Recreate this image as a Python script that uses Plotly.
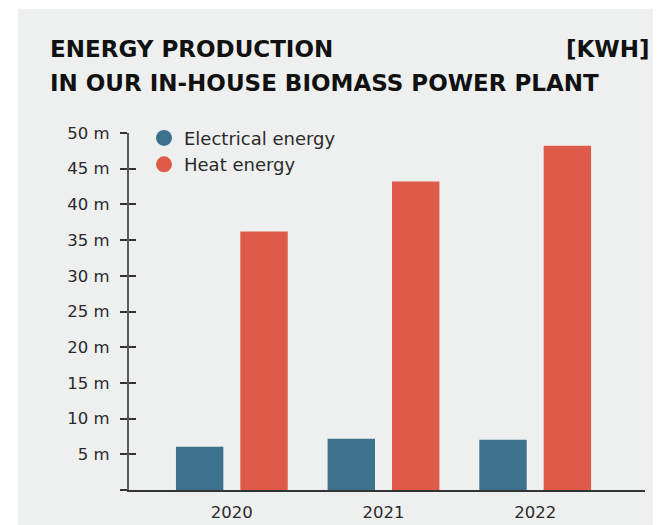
import plotly.graph_objects as go

years = ["2020", "2021", "2022"]
electrical = [6.07, 7.18, 7.04]
heat = [36.2, 43.2, 48.2]
tick_vals = [0, 5, 10, 15, 20, 25, 30, 35, 40, 45, 50]
tick_text = ["", "5 m", "10 m", "15 m", "20 m", "25 m", "30 m", "35 m", "40 m", "45 m", "50 m"]
series_names = ["Electrical energy", "Heat energy"]
title_line1 = "ENERGY PRODUCTION"
title_unit = "[KWH]"
title_line2 = "IN OUR IN-HOUSE BIOMASS POWER PLANT"

C_ELEC = "#3d728e"
C_HEAT = "#dd5b48"
PANEL = "#eef0ef"
TXT = "#2a2a2a"
FONT = "DejaVu Sans"

OFF = 8  # page body margin
W, H = 661 - OFF, 525 - OFF
# plot area in reference-window pixels
PX0, PX1, PY0, PY1 = 129, 645, 133.3, 490.4
L = PX0 - OFF
R = W - (PX1 - OFF)
T = PY0 - OFF
B = H - (PY1 - OFF)
pw, ph = W - L - R, H - T - B


def px(x):
    return (x - PX0) / pw


def py(y):
    return (PY1 - y) / ph


fig = go.Figure()
fig.add_trace(go.Bar(x=years, y=electrical, name=series_names[0], marker=dict(color=C_ELEC, line=dict(width=0)), showlegend=False))
fig.add_trace(go.Bar(x=years, y=heat, name=series_names[1], marker=dict(color=C_HEAT, line=dict(width=0)), showlegend=False))
# legend entries with circular markers
fig.add_trace(go.Scatter(x=[None], y=[None], mode="markers", name=series_names[0], marker=dict(color=C_ELEC, size=16, symbol="circle")))
fig.add_trace(go.Scatter(x=[None], y=[None], mode="markers", name=series_names[1], marker=dict(color=C_HEAT, size=16, symbol="circle")))
# empty trace to realise the overlay axis carrying inside tick marks
fig.add_trace(go.Scatter(x=[None], y=[None], yaxis="y2", showlegend=False, hoverinfo="skip"))

fig.update_layout(
    width=W, height=H,
    margin=dict(l=L, r=R, t=T, b=B, autoexpand=False),
    paper_bgcolor="white",
    plot_bgcolor="rgba(0,0,0,0)",
    font=dict(family=FONT, color=TXT, size=16.5),
    barmode="group",
    bargap=0.151,
    bargroupgap=0.264,
    showlegend=True,
    legend=dict(x=px(144), y=py(120), xanchor="left", yanchor="top", bgcolor="rgba(0,0,0,0)",
                font=dict(family=FONT, size=18, color=TXT), itemwidth=30, tracegroupgap=0),
    xaxis=dict(type="category", range=[-0.678, 2.724], showline=True, linecolor="#333333", linewidth=2,
               ticks="", showgrid=False, zeroline=False, tickfont=dict(family=FONT, size=16.5, color=TXT),
               ticklabelstandoff=6, fixedrange=True),
    yaxis=dict(range=[0, 50], tickvals=tick_vals, ticktext=tick_text, ticks="outside", ticklen=7,
               tickwidth=1.5, tickcolor="#333333", showline=True, linecolor="#5a5a5a", linewidth=2,
               showgrid=False, zeroline=False, tickfont=dict(family=FONT, size=16.5, color=TXT),
               ticklabelstandoff=7),
    yaxis2=dict(range=[0, 50], overlaying="y", side="left", anchor="x", tickvals=tick_vals, ticks="inside",
                ticklen=7, tickwidth=1.5, tickcolor="#333333", showticklabels=False, showline=False,
                showgrid=False, zeroline=False),
    shapes=[dict(type="rect", xref="paper", yref="paper", x0=px(18), x1=px(661 + 5), y0=py(525 + 5), y1=py(9),
                 fillcolor=PANEL, line=dict(width=0), layer="below")],
    annotations=[
        dict(text="<b>" + title_line1 + "</b>", xref="paper", yref="paper", x=px(48), y=py(49),
             xanchor="left", yanchor="middle", showarrow=False, font=dict(family=FONT, size=23, color="#111111")),
        dict(text="<b>" + title_unit + "</b>", xref="paper", yref="paper", x=px(651), y=py(49),
             xanchor="right", yanchor="middle", showarrow=False, font=dict(family=FONT, size=23, color="#111111")),
        dict(text="<b>" + title_line2 + "</b>", xref="paper", yref="paper", x=px(48), y=py(83),
             xanchor="left", yanchor="middle", showarrow=False, font=dict(family=FONT, size=23, color="#111111")),
    ],
)

fig.write_html("out.html")
